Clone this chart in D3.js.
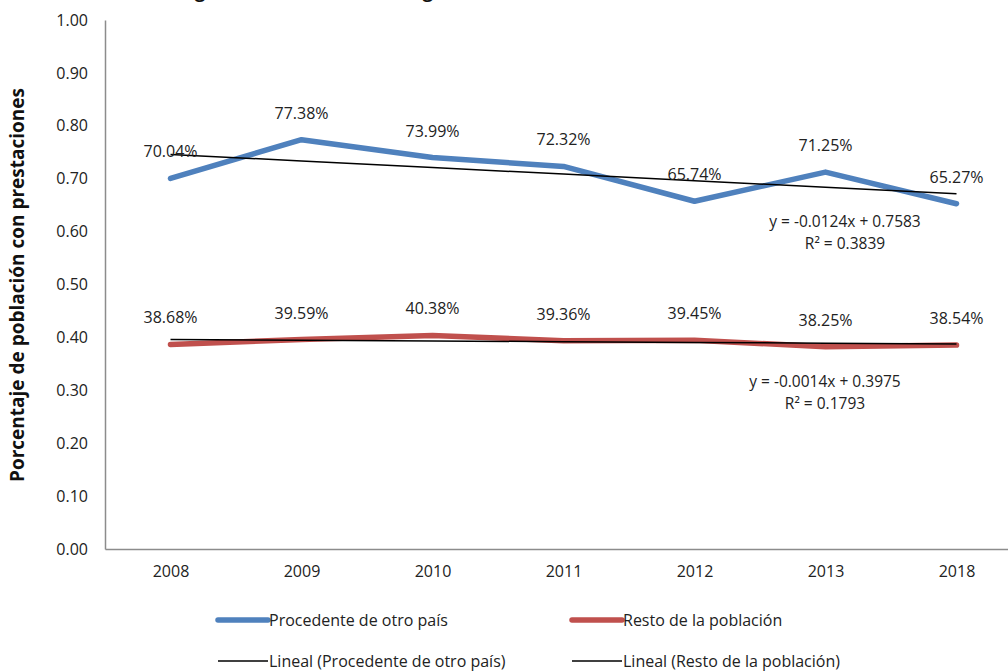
<!DOCTYPE html>
<head>
  <meta charset="utf-8">
  <script src="https://d3js.org/d3.v7.min.js"></script>
  <style>
    body { margin:0; background:#fff; }
    svg { font-family: "Open Sans", sans-serif; }
  </style>
</head>

<body>
<script>
  // data
  var years = ["2008", "2009", "2010", "2011", "2012", "2013", "2018"];
  var otroPais = [0.7004, 0.7738, 0.7399, 0.7232, 0.6574, 0.7125, 0.6527];
  var resto = [0.3868, 0.3959, 0.4038, 0.3936, 0.3945, 0.3825, 0.3854];
  // trend lines y = a*x + b, x = 1..7
  var trendOtro = [-0.0124, 0.7583];
  var trendResto = [-0.0014, 0.3975];
  var eqOtro = ["y = -0.0124x + 0.7583", "R² = 0.3839"];
  var eqResto = ["y = -0.0014x + 0.3975", "R² = 0.1793"];
  var yTicks = [0, 0.1, 0.2, 0.3, 0.4, 0.5, 0.6, 0.7, 0.8, 0.9, 1.0];
  var seriesNames = ["Procedente de otro país", "Resto de la población",
    "Lineal (Procedente de otro país)", "Lineal (Resto de la población)"];

  var width = 1008, height = 671;
  var plotLeft = 105, plotRight = 1022, plotTop = 20, plotBottom = 549;

  var svg = d3.select("body").append("svg")
    .attr("width", width)
    .attr("height", height);

  var x = d3.scalePoint().domain(years).range([plotLeft, plotRight]).padding(0.5);
  var y = d3.scaleLinear().domain([0, 1]).range([plotBottom, plotTop]);

  // title (clipped at the top of the picture)
  svg.append("text")
    .attr("x", 482).attr("y", -2)
    .attr("text-anchor", "middle")
    .style("font-size", "18px").style("font-weight", "bold").attr("fill", "#111")
    .text("Hogares con al menos un migrante de retorno en el estado, 2008-2018");

  // axes
  var yAxis = svg.append("g")
    .attr("transform", "translate(" + plotLeft + ",0)")
    .call(d3.axisLeft(y).tickValues(yTicks).tickSize(0).tickPadding(17)
      .tickFormat(d3.format(".2f")));
  var xAxis = svg.append("g")
    .attr("transform", "translate(0," + plotBottom + ")")
    .call(d3.axisBottom(x).tickSize(0).tickPadding(17));
  [yAxis, xAxis].forEach(function(g) {
    g.select(".domain").attr("stroke", "#8c8c8c").attr("stroke-width", 1.5);
    g.selectAll("text").style("font-size", "16px").attr("fill", "#222")
      .style("font-family", "'Open Sans', sans-serif");
  });

  svg.append("text")
    .attr("transform", "translate(24,285) rotate(-90)")
    .attr("text-anchor", "middle")
    .style("font-size", "19px").style("font-weight", "bold").attr("fill", "#111")
    .text("Porcentaje de población con prestaciones");

  var line = d3.line()
    .x(function(d, i) { return x(years[i]); })
    .y(function(d) { return y(d); });

  function trend(t) {
    return years.map(function(d, i) { return t[0] * (i + 1) + t[1]; });
  }

  var series = [
    { values: otroPais, color: "#4f81bd", trend: trendOtro, eq: eqOtro, eqX: 845, eqY: 221 },
    { values: resto, color: "#c0504d", trend: trendResto, eq: eqResto, eqX: 825, eqY: 381 }
  ];

  series.forEach(function(s) {
    svg.append("path")
      .attr("d", line(s.values))
      .attr("fill", "none")
      .attr("stroke", s.color)
      .attr("stroke-width", 5.5)
      .attr("stroke-linejoin", "round")
      .attr("stroke-linecap", "round");
  });

  series.forEach(function(s) {
    svg.append("path")
      .attr("d", line(trend(s.trend)))
      .attr("fill", "none")
      .attr("stroke", "#000")
      .attr("stroke-width", 1.5);
  });

  series.forEach(function(s) {
    svg.selectAll(null)
      .data(s.values)
      .enter().append("text")
      .attr("x", function(d, i) { return x(years[i]); })
      .attr("y", function(d) { return y(d) - 21; })
      .attr("text-anchor", "middle")
      .style("font-size", "16px").attr("fill", "#222")
      .text(function(d) { return (d * 100).toFixed(2) + "%"; });

    svg.selectAll(null)
      .data(s.eq)
      .enter().append("text")
      .attr("x", s.eqX)
      .attr("y", function(d, i) { return s.eqY + 6 + i * 22; })
      .attr("text-anchor", "middle")
      .style("font-size", "15.5px").attr("fill", "#222")
      .text(function(d) { return d; });
  });

  // legend
  var legend = [
    { name: seriesNames[0], color: "#4f81bd", w: 5.5, x: 218, y: 620 },
    { name: seriesNames[1], color: "#c0504d", w: 5.5, x: 572, y: 620 },
    { name: seriesNames[2], color: "#000", w: 1.5, x: 218, y: 661 },
    { name: seriesNames[3], color: "#000", w: 1.5, x: 572, y: 661 }
  ];
  var lg = svg.selectAll(".lg").data(legend).enter().append("g")
    .attr("transform", function(d) { return "translate(" + d.x + "," + d.y + ")"; });
  lg.append("line")
    .attr("x1", 0).attr("x2", 50)
    .attr("stroke", function(d) { return d.color; })
    .attr("stroke-width", function(d) { return d.w; })
    .attr("stroke-linecap", function(d) { return d.w > 2 ? "round" : "butt"; });
  lg.append("text")
    .attr("x", 51).attr("y", 6)
    .style("font-size", "16px").attr("fill", "#222")
    .text(function(d) { return d.name; });
</script>
</body>
